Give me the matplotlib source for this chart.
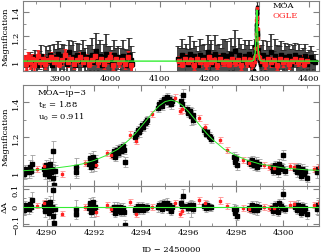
import numpy as np
import matplotlib
matplotlib.use("Agg")
import matplotlib.pyplot as plt
from matplotlib.ticker import MultipleLocator

plt.rcParams['font.family'] = ['DejaVu Serif']
plt.rcParams['font.size'] = 6

# ---- full-baseline data (top panel) ----
moa_base_t = [3828, 3833, 3838, 3843, 3848, 3852, 3857, 3861, 3866, 3870, 3874, 3879, 3883,
              3887, 3891, 3896, 3900, 3904, 3908, 3913, 3917, 3921, 3925, 3929, 3934, 3938,
              3942, 3946, 3950, 3955, 3959, 3963, 3967, 3971, 3975, 3980, 3984, 3988, 3992,
              3996, 4000, 4004, 4008, 4012, 4016, 4021, 4025, 4029, 4033, 4037, 4041, 4044,
              4136, 4140, 4144, 4148, 4152, 4156, 4160, 4164, 4168, 4172, 4176, 4180, 4184,
              4188, 4192, 4196, 4200, 4204, 4208, 4212, 4216, 4220, 4224, 4228, 4232, 4236,
              4240, 4244, 4248, 4252, 4256, 4260, 4264, 4268, 4272, 4276, 4280, 4284, 4288,
              4304, 4308, 4312, 4316, 4320, 4324, 4328, 4332, 4336, 4340, 4344, 4348, 4352,
              4356, 4360, 4364, 4368, 4372, 4376, 4380, 4384, 4388, 4392, 4396, 4400, 4404,
              4408, 4412]
moa_base_a = [1.00, 0.98, 1.02, 0.99, 1.03, 0.97, 1.01, 1.04, 0.98, 1.02, 1.00, 1.05, 0.97,
              1.03, 1.01, 1.06, 0.99, 1.04, 1.02, 0.98, 1.07, 1.01, 1.03, 0.97, 1.05, 1.02,
              1.00, 1.06, 0.98, 1.03, 1.01, 1.05, 0.99, 1.08, 1.02, 1.04, 0.97, 1.03, 1.06,
              1.00, 1.02, 0.98, 1.05, 1.01, 1.03, 0.99, 1.04, 1.00, 0.97, 1.05, 1.01, 0.98,
              1.02, 0.99, 1.05, 1.01, 1.03, 0.98, 1.06, 1.00, 1.04, 1.02, 0.97, 1.05, 1.01,
              1.03, 0.99, 1.07, 1.02, 1.04, 0.98, 1.06, 1.01, 1.03, 0.99, 1.05, 1.02, 1.04,
              0.98, 1.06, 1.01, 1.08, 1.00, 1.05, 1.02, 0.99, 1.04, 1.01, 1.06, 0.98, 1.03,
              1.02, 1.05, 0.99, 1.03, 1.01, 1.07, 0.98, 1.04, 1.02, 1.00, 1.05, 0.99, 1.03,
              1.01, 1.04, 0.98, 1.02, 1.05, 1.00, 1.03, 0.99, 1.02, 1.04, 0.98, 1.01, 1.03,
              1.00, 0.99]
moa_base_e = [0.05, 0.06, 0.05, 0.07, 0.06, 0.08, 0.07, 0.09, 0.08, 0.10, 0.09, 0.08, 0.10,
              0.11, 0.09, 0.10, 0.12, 0.10, 0.11, 0.09, 0.10, 0.12, 0.13, 0.11, 0.10, 0.12,
              0.09, 0.11, 0.13, 0.10, 0.12, 0.14, 0.11, 0.15, 0.12, 0.13, 0.10, 0.11, 0.16,
              0.12, 0.10, 0.11, 0.12, 0.10, 0.09, 0.12, 0.13, 0.10, 0.12, 0.14, 0.11, 0.09,
              0.10, 0.12, 0.13, 0.10, 0.11, 0.12, 0.14, 0.11, 0.12, 0.10, 0.11, 0.13, 0.12,
              0.11, 0.10, 0.14, 0.12, 0.13, 0.11, 0.15, 0.12, 0.11, 0.12, 0.13, 0.16, 0.12,
              0.10, 0.13, 0.11, 0.17, 0.11, 0.14, 0.12, 0.11, 0.13, 0.12, 0.11, 0.12, 0.10,
              0.11, 0.12, 0.10, 0.13, 0.11, 0.15, 0.10, 0.14, 0.11, 0.12, 0.11, 0.10, 0.12,
              0.11, 0.10, 0.12, 0.11, 0.10, 0.09, 0.11, 0.10, 0.09, 0.10, 0.09, 0.08, 0.09,
              0.08, 0.07]

ogle_base_t = [3827, 3831, 3835, 3839, 3843, 3847, 3851, 3855, 3859, 3864, 3869, 3874, 3880,
               3886, 3892, 3898, 3904, 3910, 3916, 3922, 3928, 3934, 3940, 3946, 3952, 3958,
               3964, 3970, 3976, 3982, 3988, 3994, 4000, 4006, 4012, 4018, 4024, 4030, 4036,
               4042, 4138, 4144, 4150, 4156, 4162, 4168, 4174, 4180, 4186, 4192, 4198, 4204,
               4210, 4216, 4222, 4228, 4234, 4240, 4246, 4252, 4258, 4264, 4270, 4276, 4282,
               4286, 4306, 4312, 4318, 4324, 4330, 4336, 4342, 4348, 4354, 4360, 4366, 4372,
               4378, 4384, 4390, 4396]
ogle_base_a = [1.01, 0.98, 1.03, 0.99, 1.02, 0.97, 1.01, 1.04, 0.99, 1.02, 0.98, 1.01, 1.03,
               0.99, 1.02, 0.98, 1.01, 1.05, 0.99, 1.02, 0.98, 1.01, 1.03, 0.99, 1.02, 0.98,
               1.01, 1.04, 0.99, 1.02, 0.98, 1.01, 1.03, 0.97, 1.02, 0.99, 1.01, 0.98, 1.03,
               0.97, 1.00, 0.98, 1.02, 0.99, 1.01, 0.97, 1.02, 0.99, 1.01, 0.98, 1.03, 0.99,
               1.01, 0.97, 1.02, 0.99, 1.00, 0.98, 1.02, 0.99, 1.01, 0.97, 1.02, 0.99, 1.01,
               0.98, 1.00, 0.98, 1.02, 0.99, 1.01, 0.97, 1.02, 0.99, 1.01, 0.98, 1.00, 1.02,
               0.99, 1.01, 0.98, 1.00]
ogle_base_e = [0.04, 0.05, 0.04, 0.05, 0.04, 0.05, 0.04, 0.05, 0.04, 0.04, 0.04, 0.03, 0.04,
               0.03, 0.04, 0.03, 0.04, 0.05, 0.04, 0.03, 0.04, 0.03, 0.04, 0.03, 0.04, 0.03,
               0.04, 0.05, 0.04, 0.03, 0.04, 0.03, 0.04, 0.04, 0.03, 0.04, 0.03, 0.04, 0.05,
               0.05, 0.04, 0.03, 0.04, 0.03, 0.04, 0.04, 0.03, 0.04, 0.03, 0.04, 0.04, 0.03,
               0.04, 0.03, 0.04, 0.03, 0.04, 0.03, 0.04, 0.03, 0.04, 0.04, 0.03, 0.04, 0.03,
               0.04, 0.03, 0.04, 0.03, 0.04, 0.03, 0.04, 0.03, 0.04, 0.03, 0.04, 0.03, 0.04,
               0.03, 0.04, 0.03, 0.04]

# ---- event data (zoomed panels) ----
moa_t = [4289.02, 4289.04, 4289.06, 4289.08, 4289.26, 4289.30, 4289.34, 4289.38,
         4289.88, 4289.92, 4289.96, 4290.00, 4290.04, 4290.08, 4290.12, 4290.16, 4290.20,
         4290.24, 4290.28, 4290.32, 4290.36, 4291.22, 4291.25,
         4291.78, 4291.82, 4291.86, 4291.90, 4291.94, 4291.98, 4292.02,
         4292.78, 4292.84, 4292.90, 4292.96, 4293.02, 4293.08, 4293.14, 4293.20, 4293.26, 4293.30,
         4293.72, 4293.78, 4293.84, 4293.90, 4293.96, 4294.02, 4294.08, 4294.14, 4294.20, 4294.24,
         4294.70, 4294.76, 4294.82, 4294.88, 4294.94, 4295.00, 4295.06, 4295.12, 4295.18,
         4295.24, 4295.30, 4295.68, 4295.72, 4295.76,
         4295.92, 4295.98, 4296.04, 4296.10, 4296.16, 4296.20,
         4296.66, 4296.72, 4296.78, 4296.84, 4296.90, 4296.96,
         4297.92, 4297.96, 4298.00, 4298.04,
         4298.55, 4298.62, 4298.69, 4298.76, 4298.83, 4298.90, 4298.97,
         4299.52, 4299.58, 4299.64, 4299.70, 4299.76, 4299.82, 4299.88, 4299.94, 4300.00, 4300.06,
         4300.50, 4300.56, 4300.62, 4300.68, 4300.74, 4300.80, 4300.86, 4300.92, 4300.98,
         4301.42, 4301.48]
moa_a = [1.01, 0.99, 1.02, 1.00, 1.00, 1.03, 1.01, 1.05,
         1.02, 0.99, 1.04, 1.01, 1.03, 0.98, 1.05, 1.00, 1.02, 0.97, 1.12, 0.93, 1.01,
         1.03, 1.00,
         1.05, 1.08, 1.03, 1.06, 1.09, 1.04, 1.07,
         1.10, 1.12, 1.09, 1.13, 1.11, 1.14, 1.12, 1.15, 1.13, 1.06,
         1.20, 1.22, 1.24, 1.23, 1.25, 1.27, 1.26, 1.28, 1.29, 1.30,
         1.37, 1.39, 1.40, 1.38, 1.42, 1.41, 1.43, 1.40, 1.42, 1.39, 1.41,
         1.41, 1.39, 1.44,
         1.36, 1.34, 1.35, 1.32, 1.33, 1.30,
         1.24, 1.22, 1.23, 1.21, 1.20, 1.19,
         1.09, 1.06, 1.08, 1.04,
         1.06, 1.05, 1.07, 1.04, 1.06, 1.03, 1.05,
         1.03, 1.01, 1.04, 1.02, 1.00, 1.05, 1.03, 1.02, 1.10, 1.01,
         1.02, 1.00, 1.03, 1.01, 0.98, 1.02, 0.99, 1.01, 0.97,
         1.00, 1.02]
moa_e = [0.02, 0.03, 0.02, 0.03, 0.03, 0.04, 0.03, 0.05,
         0.03, 0.03, 0.03, 0.03, 0.03, 0.03, 0.03, 0.03, 0.03, 0.03, 0.06, 0.05, 0.03,
         0.05, 0.03,
         0.03, 0.03, 0.03, 0.03, 0.03, 0.03, 0.03,
         0.025, 0.025, 0.025, 0.025, 0.025, 0.025, 0.025, 0.025, 0.025, 0.03,
         0.025, 0.025, 0.025, 0.025, 0.025, 0.025, 0.025, 0.025, 0.025, 0.025,
         0.025, 0.025, 0.025, 0.025, 0.025, 0.025, 0.025, 0.025, 0.025, 0.025, 0.025,
         0.03, 0.03, 0.04,
         0.025, 0.025, 0.025, 0.05, 0.025, 0.025,
         0.02, 0.02, 0.02, 0.02, 0.02, 0.02,
         0.025, 0.025, 0.025, 0.025,
         0.025, 0.025, 0.025, 0.025, 0.025, 0.025, 0.025,
         0.025, 0.025, 0.025, 0.025, 0.025, 0.025, 0.025, 0.025, 0.03, 0.025,
         0.025, 0.025, 0.025, 0.025, 0.025, 0.025, 0.025, 0.025, 0.025,
         0.03, 0.03]

ogle_t = [4289.59, 4289.87, 4290.65, 4291.63, 4292.10, 4292.55, 4292.70, 4293.51, 4293.75,
          4294.45, 4295.44, 4295.65, 4295.70, 4296.42, 4296.67, 4297.34, 4297.63, 4298.30,
          4298.54, 4299.17, 4299.38, 4299.60, 4300.30, 4300.44, 4301.28, 4301.50]
ogle_a = [1.019, 1.036, 0.990, 1.052, 1.040, 1.110, 1.098, 1.216, 1.180,
          1.336, 1.428, 1.350, 1.360, 1.313, 1.257, 1.186, 1.126, 1.070,
          1.052, 1.041, 1.030, 1.026, 1.034, 1.033, 1.020, 1.030]
ogle_e = [0.015, 0.018, 0.015, 0.018, 0.018, 0.018, 0.018, 0.018, 0.018,
          0.018, 0.018, 0.018, 0.018, 0.018, 0.018, 0.018, 0.018, 0.018,
          0.018, 0.018, 0.018, 0.018, 0.018, 0.018, 0.018, 0.018]

# model light curve (t_E = 1.88, u_0 = 0.911)
model_t = [4289.0, 4290.0, 4291.0, 4291.5, 4292.0, 4292.5, 4293.0, 4293.5, 4293.75,
           4294.0, 4294.25, 4294.5, 4294.75, 4295.0, 4295.25, 4295.5, 4295.75, 4296.0,
           4296.25, 4296.5, 4296.75, 4297.0, 4297.5, 4298.0, 4298.5, 4299.0, 4299.5,
           4300.0, 4301.0, 4301.5]
model_a = [1.009, 1.018, 1.036, 1.048, 1.068, 1.096, 1.132, 1.189, 1.224,
           1.264, 1.305, 1.346, 1.381, 1.405, 1.413, 1.405, 1.381, 1.346,
           1.305, 1.264, 1.224, 1.189, 1.132, 1.096, 1.068, 1.048, 1.036,
           1.025, 1.014, 1.011]
base_model_t = [3824, 4285, 4289, 4292, 4294, 4295.25, 4296.5, 4298.5, 4301.5, 4305, 4421]
base_model_a = [1.0, 1.0, 1.009, 1.068, 1.264, 1.413, 1.264, 1.068, 1.011, 1.0, 1.0]

frame = '#808080'
green = '#33ee33'
red = '#ff2020'
pink = '#ff9090'
grey = '#a0a0a0'

fig = plt.figure(figsize=(3.22, 2.53), dpi=100)
ax1 = fig.add_axes([0.0705, 0.7154, 0.9211, 0.2786])
ax2 = fig.add_axes([0.0705, 0.2597, 0.9211, 0.4003])
ax3 = fig.add_axes([0.0705, 0.1040, 0.9211, 0.1557], sharex=ax2)

# top: whole season
ax1.errorbar(moa_base_t, moa_base_a, yerr=moa_base_e, fmt='s', ms=2.2, color='k',
             ecolor='#282828', elinewidth=1.2, capsize=2, capthick=0.6)
ax1.errorbar(moa_t, moa_a, yerr=moa_e, fmt='s', ms=1.5, color='k', ecolor='#303030',
             elinewidth=0.8, capsize=1, capthick=0.5)
ax1.errorbar(ogle_base_t, ogle_base_a, yerr=ogle_base_e, fmt='s', ms=2.4, color=red,
             ecolor=red, elinewidth=1.8, capsize=1.2, capthick=0.6)
ax1.errorbar(ogle_t, ogle_a, yerr=ogle_e, fmt='s', ms=1.5, color=red, ecolor=red,
             elinewidth=0.8, capsize=1, capthick=0.5)
ax1.plot(base_model_t, base_model_a, color=green, lw=1.0, zorder=10)
ax1.set_xlim(3824, 4421)
ax1.set_ylim(0.92, 1.49)
ax1.xaxis.set_major_locator(MultipleLocator(100))
ax1.xaxis.set_minor_locator(MultipleLocator(50))
ax1.yaxis.set_minor_locator(MultipleLocator(0.1))
ax1.set_yticks([1, 1.2, 1.4])
ax1.set_yticklabels(['1', '1.2', '1.4'])
ax1.set_ylabel('Magnification', labelpad=2)
ax1.text(0.842, 0.93, 'MOA', transform=ax1.transAxes, color='k', va='center')
ax1.text(0.842, 0.80, 'OGLE', transform=ax1.transAxes, color=red, va='center')

# middle: the event
ax2.errorbar(moa_t, moa_a, yerr=moa_e, fmt='s', ms=2.2, color='k', ecolor=grey,
             elinewidth=0.6, capsize=1.8, capthick=0.6)
ax2.errorbar(ogle_t, ogle_a, yerr=ogle_e, fmt='s', ms=1.8, color=red, ecolor=pink,
             elinewidth=0.6, capsize=1.8, capthick=0.6)
ax2.plot(model_t, model_a, color=green, lw=0.7, zorder=10)
ax2.set_ylim(0.92, 1.5)
ax2.set_yticks([1, 1.2, 1.4])
ax2.set_yticklabels(['1', '1.2', '1.4'])
ax2.yaxis.set_minor_locator(MultipleLocator(0.1))
ax2.set_ylabel('Magnification', labelpad=2)
ax2.text(0.05, 0.93, 'MOA\u2212ip\u22123', transform=ax2.transAxes, va='center')
ax2.text(0.05, 0.81, '$\\mathregular{t_E}$ = 1.88', transform=ax2.transAxes, va='center')
ax2.text(0.05, 0.69, '$\\mathregular{u_0}$ = 0.911', transform=ax2.transAxes, va='center')
plt.setp(ax2.get_xticklabels(), visible=False)

# bottom: residuals
moa_res = np.array(moa_a) - np.interp(moa_t, model_t, model_a)
ogle_res = np.array(ogle_a) - np.interp(ogle_t, model_t, model_a)
ax3.errorbar(moa_t, moa_res, yerr=moa_e, fmt='s', ms=2.2, color='k', ecolor=grey,
             elinewidth=0.6, capsize=1.6, capthick=0.6)
ax3.errorbar(ogle_t, ogle_res, yerr=ogle_e, fmt='s', ms=1.8, color=red, ecolor=pink,
             elinewidth=0.6, capsize=1.8, capthick=0.6)
ax3.axhline(0, color=green, lw=0.8, zorder=10)
ax3.set_xlim(4288.98, 4301.52)
ax3.set_ylim(-0.11, 0.118)
ax3.set_yticks([-0.1, 0, 0.1])
ax3.set_yticklabels(['\u22120.1', '0', '0.1'])
ax3.yaxis.set_minor_locator(MultipleLocator(0.05))
ax3.xaxis.set_major_locator(MultipleLocator(2))
ax3.xaxis.set_minor_locator(MultipleLocator(1))
ax3.set_ylabel('\u0394A', labelpad=2)
ax3.set_xlabel('JD \u2212 2450000', labelpad=6)

for ax in (ax1, ax2, ax3):
    for s in ax.spines.values():
        s.set_color(frame)
        s.set_linewidth(0.8)
    ax.tick_params(which='both', direction='in', top=True, right=True, color=frame,
                   labelsize=6, pad=2)
    ax.tick_params(which='major', length=4)
    ax.tick_params(which='minor', length=2)
    for lab in ax.get_yticklabels():
        lab.set_rotation(90)
        lab.set_va('center')

fig.savefig('out.png', dpi=100)
